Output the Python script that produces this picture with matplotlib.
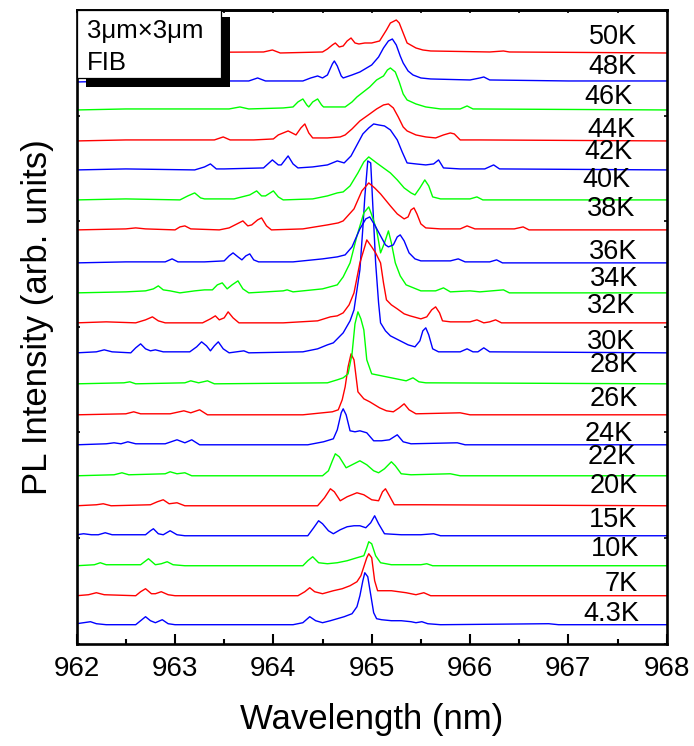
import matplotlib
matplotlib.use('Agg')
import matplotlib.pyplot as plt
from matplotlib.patches import Rectangle
from matplotlib.ticker import MultipleLocator
import numpy as np

plt.rcParams['font.family'] = ['Liberation Sans', 'DejaVu Sans']

# ---------------- data (wavelength nm, PL intensity arb. units above baseline) ----------------
temps = ['4.3K', '7K', '10K', '15K', '20K', '22K', '24K', '26K', '28K', '30K',
         '32K', '34K', '36K', '38K', '40K', '42K', '44K', '46K', '48K', '50K']
offsets = [19, 48, 78, 108, 138, 168, 199, 229, 260, 291,
           321, 351, 381, 414, 444, 474, 503, 534, 563, 591]
label_dy = [13, 14, 19, 18, 22, 21, 13, 18, 21, 13, 19, 16, 13, 23, 22, 20, 13, 15, 16, 18]
label_x = [967.72, 967.71, 967.72, 967.70, 967.71, 967.69, 967.66, 967.71, 967.71, 967.68,
           967.68, 967.71, 967.70, 967.68, 967.63, 967.65, 967.68, 967.65, 967.69, 967.70]

s_4p3K = [(962.0,1),(962.07,2),(962.14,3),(962.2,1),(962.3,0),(962.6,0),(962.65,4),(962.7,8),(962.75,4),
          (962.8,2),(962.87,5),(962.93,1),(963.0,0),(963.5,0),(964.2,0),(964.3,2),(964.37,8),(964.43,4),
          (964.5,2),(964.58,4),(964.65,6),(964.72,8),(964.8,11),(964.85,18),(964.88,29),(964.91,44),
          (964.93,52),(964.96,48),(964.99,30),(965.02,12),(965.05,6),(965.1,5),(965.2,4),(965.3,4),
          (965.4,3),(965.45,2),(965.51,3),(965.57,1),(965.7,0),(966.8,1),(966.9,0),(968.0,0)]
s_7K = [(962.0,0),(962.12,1),(962.2,3),(962.28,1),(962.6,0),(962.65,4),(962.7,7),(962.76,2),(962.8,2),
        (962.86,4),(962.93,1),(963.0,0),(964.25,0),(964.32,4),(964.37,8),(964.42,4),(964.5,2),(964.61,5),
        (964.7,7),(964.78,10),(964.85,14),(964.89,20),(964.92,29),(964.95,38),(964.97,42),(965.0,38),
        (965.03,15),(965.06,5),(965.2,5),(965.35,3),(965.45,1),(965.53,3),(965.6,0),(968.0,0)]
s_10K = [(962.0,0),(962.18,1),(962.24,3),(962.3,1),(962.65,1),(962.73,7),(962.8,1),(962.86,2),(962.92,4),
         (962.98,1),(963.1,0),(964.3,0),(964.35,5),(964.4,9),(964.46,3),(964.55,2),(964.65,3),(964.75,5),
         (964.85,8),(964.92,10),(964.95,18),(964.97,24),(965.0,22),(965.04,10),(965.09,3),(965.2,1),
         (965.5,1),(965.56,2),(965.62,0),(968.0,0)]
s_15K = [(962.0,1),(962.07,2),(962.15,1),(962.22,1),(962.29,3),(962.36,1),(962.7,1),(962.75,5),(962.78,7),
         (962.83,2),(962.88,1),(962.95,5),(963.02,1),(963.1,0),(964.35,0),(964.41,8),(964.46,15),(964.5,12),
         (964.56,5),(964.61,2),(964.68,6),(964.75,9),(964.82,10),(964.88,10),(964.94,8),(964.99,13),
         (965.03,20),(965.07,12),(965.13,2),(965.3,1),(965.5,1),(965.63,2),(965.7,0),(968.0,0)]
s_20K = [(962.0,0),(962.2,1),(962.27,2),(962.35,0),(962.75,1),(962.82,4),(962.88,6),(962.94,2),(963.02,3),
         (963.1,0),(964.45,0),(964.52,8),(964.58,17),(964.62,14),(964.68,5),(964.75,9),(964.85,13),
         (964.92,11),(965.0,6),(965.07,5),(965.11,14),(965.14,17),(965.18,10),(965.23,1),(965.5,1),(968.0,0)]
s_22K = [(962.0,0),(962.38,1),(962.46,3),(962.53,1),(962.9,2),(962.95,4),(963.02,2),(963.1,3),(963.17,0),
         (964.5,0),(964.56,5),(964.6,15),(964.63,22),(964.67,19),(964.74,8),(964.8,11),(964.88,15),
         (964.95,11),(965.02,5),(965.07,3),(965.13,7),(965.2,14),(965.24,10),(965.3,2),(965.4,1),
         (965.8,2),(965.9,0),(968.0,0)]
s_24K = [(962.0,0),(962.3,1),(962.38,2),(962.45,1),(962.52,3),(962.6,1),(962.9,1),(963.02,5),(963.1,2),
         (963.17,5),(963.25,0),(964.35,0),(964.51,3),(964.61,6),(964.65,15),(964.69,32),(964.71,36),
         (964.74,30),(964.78,14),(964.83,13),(964.88,14),(964.95,12),(965.02,4),(965.1,4),(965.18,5),
         (965.26,10),(965.32,3),(965.4,1),(965.87,2),(965.95,0),(968.0,0)]
s_26K = [(962.0,0),(962.5,1),(962.58,3),(962.65,1),(962.95,1),(963.09,4),(963.16,2),(963.25,5),(963.33,0),
         (964.3,0),(964.6,3),(964.66,5),(964.7,15),(964.73,28),(964.76,48),(964.79,61),(964.82,55),
         (964.86,23),(964.92,16),(964.98,13),(965.08,7),(965.15,4),(965.22,3),(965.28,7),(965.33,11),
         (965.38,5),(965.45,1),(965.9,2),(966.0,0),(968.0,0)]
s_28K = [(962.0,0),(962.48,1),(962.54,2),(962.6,0),(963.1,1),(963.16,3),(963.24,1),(963.33,3),(963.4,0),
         (964.55,1),(964.65,4),(964.71,6),(964.76,10),(964.8,30),(964.83,60),(964.86,72),(964.89,65),
         (964.92,54),(964.95,24),(965.0,10),(965.1,8),(965.2,6),(965.3,4),(965.35,3),(965.42,6),
         (965.48,2),(965.55,1),(968.0,0)]
s_30K = [(962.0,0),(962.2,1),(962.28,3),(962.36,1),(962.55,0),(962.6,5),(962.65,9),(962.7,4),(962.75,2),
         (962.8,3),(962.88,1),(963.15,1),(963.22,6),(963.27,11),(963.32,7),(963.36,2),(963.4,7),(963.44,11),
         (963.49,4),(963.55,0),(963.7,2),(963.75,0),(964.3,1),(964.45,4),(964.55,8),(964.61,10),
         (964.71,20),(964.78,32),(964.82,43),(964.88,83),(964.91,125),(964.93,156),(964.96,192),
         (964.99,190),(965.01,150),(965.04,90),(965.07,50),(965.09,30),(965.14,22),(965.19,17),
         (965.29,12),(965.37,8),(965.44,6),(965.49,12),(965.52,22),(965.55,25),(965.58,18),(965.62,4),
         (965.68,1),(965.9,1),(965.97,4),(966.03,1),(966.08,1),(966.14,5),(966.2,1),(968.0,0)]
s_32K = [(962.0,0),(962.3,1),(962.6,0),(962.7,3),(962.77,6),(962.83,2),(962.9,0),(963.28,0),(963.36,4),
         (963.41,7),(963.45,3),(963.5,5),(963.54,11),(963.59,5),(963.65,0),(964.1,0),(964.45,2),
         (964.58,6),(964.65,7),(964.71,10),(964.77,18),(964.82,30),(964.88,60),(964.95,83),(965.0,76),
         (965.04,70),(965.09,60),(965.12,40),(965.15,23),(965.2,18),(965.26,14),(965.33,9),(965.39,7),
         (965.5,4),(965.56,6),(965.61,13),(965.65,16),(965.69,10),(965.72,2),(965.8,1),(966.0,1),
         (966.07,3),(966.14,0),(966.2,1),(966.26,3),(966.32,0),(968.0,0)]
s_34K = [(962.0,0),(962.5,1),(962.7,2),(962.78,4),(962.83,7),(962.88,3),(962.95,2),(963.05,0),(963.2,2),
         (963.3,3),(963.38,3),(963.43,8),(963.48,10),(963.53,4),(963.58,8),(963.64,12),(963.69,4),
         (963.75,0),(964.1,2),(964.14,3),(964.2,1),(964.5,4),(964.65,8),(964.71,16),(964.78,30),
         (964.85,57),(964.92,80),(964.97,86),(965.0,78),(965.05,63),(965.09,40),(965.13,50),(965.17,62),
         (965.2,50),(965.24,30),(965.29,17),(965.35,8),(965.4,6),(965.5,2),(965.65,2),(965.73,5),
         (965.8,1),(966.0,2),(966.1,1),(966.34,3),(966.4,0),(968.0,0)]
s_36K = [(962.0,0),(962.5,1),(962.9,1),(962.97,4),(963.03,1),(963.3,1),(963.5,2),(963.55,7),(963.59,10),
         (963.64,6),(963.68,3),(963.72,7),(963.76,9),(963.8,3),(963.85,1),(964.2,1),(964.5,4),(964.65,6),
         (964.73,8),(964.8,16),(964.88,34),(964.94,44),(964.98,46),(965.03,38),(965.09,27),(965.14,18),
         (965.17,16),(965.22,18),(965.26,26),(965.29,28),(965.33,22),(965.38,10),(965.44,4),(965.5,2),
         (965.8,2),(965.88,4),(965.95,1),(966.2,1),(966.27,3),(966.33,0),(968.0,0)]
s_38K = [(962.0,0),(962.5,1),(962.6,2),(962.7,1),(963.0,0),(963.05,3),(963.1,4),(963.16,1),(963.45,0),
         (963.55,2),(963.63,6),(963.69,9),(963.74,4),(963.78,5),(963.84,10),(963.88,12),(963.93,4),
         (963.98,0),(964.3,1),(964.55,5),(964.66,7),(964.71,9),(964.82,21),(964.9,39),(964.97,47),
         (965.03,42),(965.09,36),(965.14,30),(965.19,24),(965.26,16),(965.33,11),(965.37,13),(965.4,20),
         (965.43,22),(965.46,16),(965.5,6),(965.55,2),(965.7,1),(965.9,1),(965.97,4),(966.05,1),
         (966.45,1),(966.54,3),(966.6,0),(968.0,0)]
s_40K = [(962.0,0),(962.5,1),(963.05,0),(963.13,4),(963.2,7),(963.26,2),(963.3,1),(963.6,1),(963.76,5),
         (963.83,9),(963.88,4),(963.92,4),(964.0,9),(964.05,3),(964.1,0),(964.4,1),(964.55,4),(964.65,7),
         (964.71,8),(964.78,14),(964.86,27),(964.92,38),(964.97,43),(965.05,37),(965.12,32),(965.19,27),
         (965.26,20),(965.33,12),(965.4,7),(965.44,5),(965.49,12),(965.54,20),(965.58,14),(965.62,3),
         (965.7,1),(966.0,1),(966.07,3),(966.13,0),(968.0,0)]
s_42K = [(962.0,0),(962.5,1),(963.2,0),(963.3,3),(963.36,6),(963.42,1),(963.5,1),(963.9,2),(963.99,10),
         (964.05,5),(964.08,5),(964.15,14),(964.2,6),(964.25,2),(964.4,3),(964.55,5),(964.65,9),
         (964.72,7),(964.79,14),(964.85,25),(964.91,36),(964.97,42),(965.02,46),(965.07,45),(965.13,44),
         (965.19,40),(965.26,30),(965.31,18),(965.36,7),(965.45,6),(965.55,5),(965.63,6),(965.68,10),
         (965.73,2),(965.9,1),(966.15,1),(966.24,5),(966.3,1),(968.0,0)]
s_44K = [(962.0,0),(962.5,1),(963.4,1),(963.49,4),(963.56,1),(963.8,1),(964.0,2),(964.05,6),(964.15,10),
         (964.23,6),(964.28,13),(964.32,17),(964.36,8),(964.4,3),(964.55,3),(964.68,4),(964.73,6),
         (964.8,12),(964.88,20),(964.98,27),(965.05,32),(965.12,36),(965.17,37),(965.22,33),(965.27,24),
         (965.32,14),(965.36,10),(965.45,6),(965.55,4),(965.65,3),(965.73,6),(965.8,8),(965.84,7),
         (965.9,1),(966.1,1),(968.0,0)]
s_46K = [(962.0,0),(962.5,1),(963.55,1),(963.66,3),(963.75,1),(964.1,2),(964.2,3),(964.25,8),(964.3,11),
         (964.34,5),(964.36,3),(964.4,8),(964.45,11),(964.49,5),(964.51,3),(964.73,3),(964.8,8),
         (964.85,13),(964.98,23),(965.05,30),(965.12,34),(965.16,40),(965.19,42),(965.24,38),(965.28,28),
         (965.32,16),(965.36,10),(965.45,6),(965.55,3),(965.7,1),(965.9,1),(965.97,4),(966.03,1),(968.0,0)]
s_48K = [(962.0,-1),(962.5,0),(963.75,0),(963.84,3),(963.92,0),(964.3,0),(964.38,3),(964.45,5),(964.5,3),
         (964.55,6),(964.6,17),(964.62,20),(964.65,15),(964.69,5),(964.71,3),(964.8,6),(964.88,9),
         (965.0,16),(965.07,24),(965.12,33),(965.17,40),(965.21,42),(965.25,36),(965.29,25),(965.32,18),
         (965.37,10),(965.42,6),(965.5,3),(965.6,2),(966.0,1),(966.1,3),(966.14,4),(966.2,1),(967.0,0),
         (968.0,0)]
s_50K = [(962.0,0),(963.9,1),(963.99,3),(964.07,0),(964.5,1),(964.55,4),(964.6,8),(964.63,10),(964.67,6),
         (964.71,7),(964.75,12),(964.79,15),(964.83,10),(964.87,9),(964.93,10),(965.0,10),(965.08,12),
         (965.15,23),(965.19,30),(965.25,33),(965.28,30),(965.32,20),(965.36,10),(965.45,5),(965.52,3),
         (965.6,2),(966.2,1),(966.34,2),(966.4,1),(968.0,0)]

spectra = [s_4p3K, s_7K, s_10K, s_15K, s_20K, s_22K, s_24K, s_26K, s_28K, s_30K,
           s_32K, s_34K, s_36K, s_38K, s_40K, s_42K, s_44K, s_46K, s_48K, s_50K]
xticks_major = [962, 963, 964, 965, 966, 967, 968]

# ---------------- plot ----------------
W, H, DPI = 694, 746, 100
fig = plt.figure(figsize=(W / DPI, H / DPI), dpi=DPI)
ax = fig.add_axes([76.7 / W, 1 - 643.7 / H, 590 / W, 633.7 / H])

cycle = ['#0000ff', '#ff0000', '#00ff00']
for i, (spec, off) in enumerate(zip(spectra, offsets)):
    wl = [p[0] for p in spec]
    inten = [p[1] + off for p in spec]
    ax.plot(wl, inten, color=cycle[i % 3], lw=1.0, zorder=2)

for t, off, dy, lx in zip(temps, offsets, label_dy, label_x):
    ax.text(lx, off + dy - 9.5, t, ha='right', va='baseline', fontsize=19.5, zorder=5)

ax.set_xlim(962, 968)
ax.set_ylim(0, 634)
ax.set_xticks(xticks_major)
ax.xaxis.set_minor_locator(MultipleLocator(0.5))
ax.set_yticks(np.arange(0, 7) * 634 / 6)
ax.set_yticklabels([])
ax.tick_params(axis='x', which='major', direction='in', length=7.5, width=1.5, labelsize=20, pad=9)
ax.tick_params(axis='x', which='minor', direction='in', length=3.8, width=1.5)
ax.tick_params(axis='y', which='major', direction='in', length=2.5, width=1.2, left=True, right=True)
for sp in ax.spines.values():
    sp.set_linewidth(1.9)

sec = ax.secondary_xaxis('top')
sec.set_xticks(xticks_major)
sec.xaxis.set_minor_locator(MultipleLocator(0.5))
sec.set_xticklabels([])
sec.tick_params(which='both', direction='in', length=2.5, width=1.2)
sec.spines['top'].set_linewidth(1.9)

ax.set_xlabel('Wavelength (nm)', fontsize=25)
ax.set_ylabel('PL Intensity (arb. units)', fontsize=25)
ax.xaxis.set_label_coords(0.5, -0.094)
ax.yaxis.set_label_coords(-0.038, 0.515)

# text box with shadow
ax.add_patch(Rectangle((0.0158, 0.8785), 0.2442, 0.1105, transform=ax.transAxes,
                       facecolor='black', edgecolor='none', zorder=6, clip_on=False))
ax.add_patch(Rectangle((0.0, 0.8927), 0.2446, 0.1073, transform=ax.transAxes,
                       facecolor='white', edgecolor='black', lw=0.9, zorder=7, clip_on=False))
ax.text(0.0175, 0.967, '3\u03bcm\u00d73\u03bcm', transform=ax.transAxes, fontsize=18.5,
        ha='left', va='center', zorder=8)
ax.text(0.0175, 0.917, 'FIB', transform=ax.transAxes, fontsize=18.5,
        ha='left', va='center', zorder=8)

fig.savefig('out.png', dpi=DPI)
